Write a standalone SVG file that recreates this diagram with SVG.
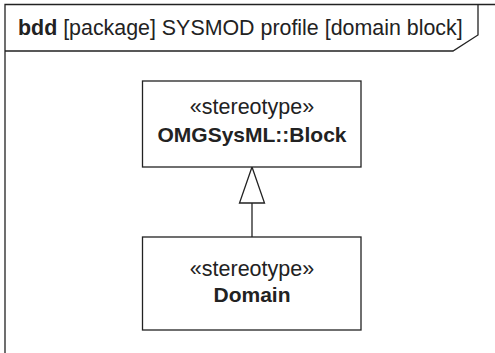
<svg xmlns="http://www.w3.org/2000/svg" width="495" height="353" viewBox="0 0 495 353">
<style>
.ln{fill:none;stroke:#222;stroke-width:1.3}
.box{fill:#fff;stroke:#222;stroke-width:1.3}
text{font-family:"Liberation Sans",Arial,sans-serif;fill:#222}
.st{font-size:21.5px;text-anchor:middle}
.nm{font-size:21px;font-weight:bold;text-anchor:middle}
.hd{font-size:21.4px}
</style>
<rect width="495" height="353" fill="#fff"/>
<g id="frame">
<path class="ln" d="M5,353 V4.5 H495"/>
<path class="ln" d="M5,51 H453 L478,35 V4.5"/>
<text class="hd" x="18" y="35"><tspan font-weight="bold">bdd</tspan> [package] SYSMOD profile [domain block]</text>
</g>
<g id="connectors">
<path class="ln" d="M252,237 V203"/>
<path class="box" d="M252,167 L264.5,203 H239.5 Z"/>
</g>
<g id="block">
<rect class="box" x="142.5" y="81" width="218.5" height="86"/>
<text class="st" x="252" y="114">«stereotype»</text>
<text class="nm" x="252" y="141.5">OMGSysML::Block</text>
</g>
<g id="domain">
<rect class="box" x="142.5" y="237" width="218.5" height="93"/>
<text class="st" x="252" y="276">«stereotype»</text>
<text class="nm" x="252" y="301.5">Domain</text>
</g>
</svg>
